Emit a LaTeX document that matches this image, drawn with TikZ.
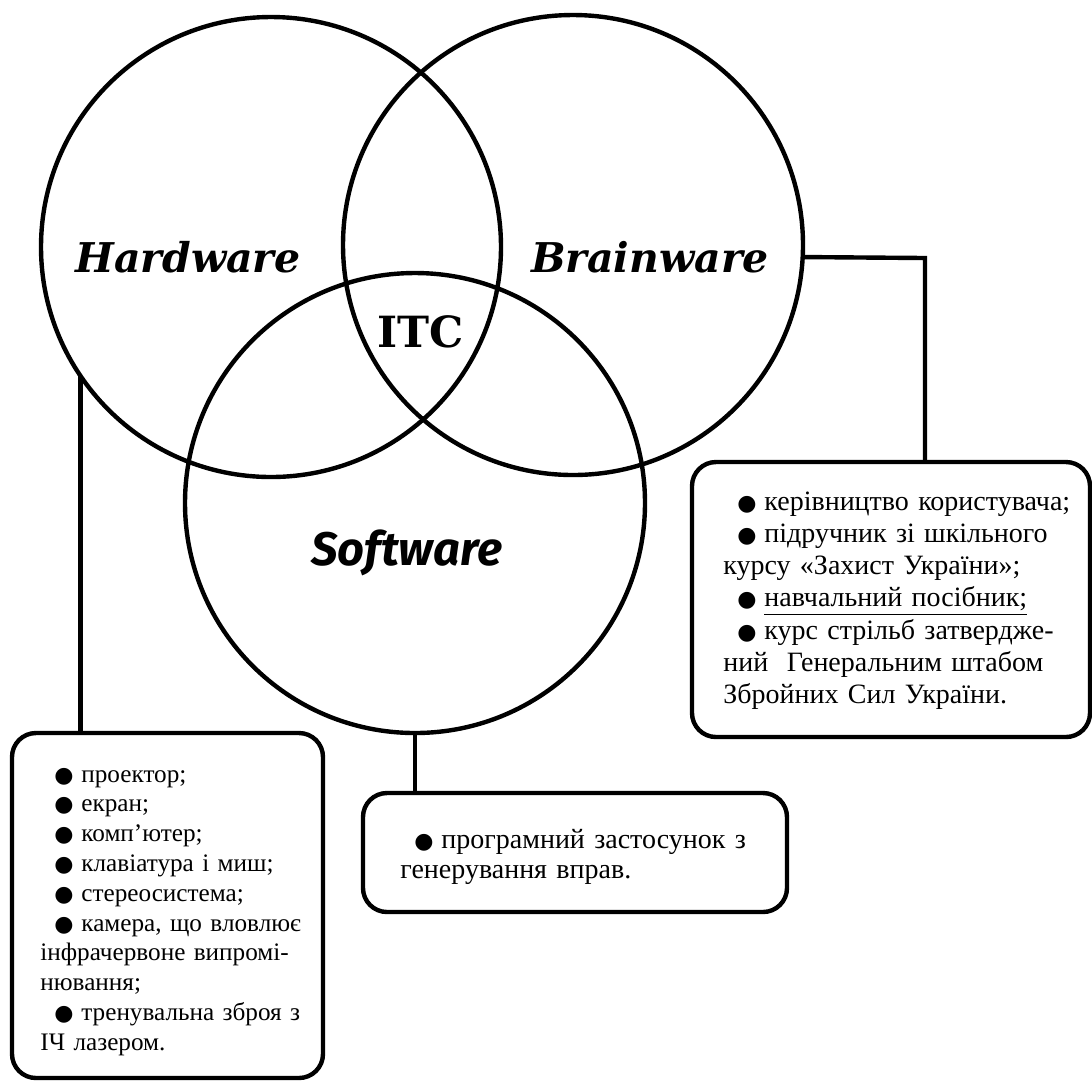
\documentclass[tikz,border=0pt]{standalone}
\usepackage{fontspec}
\setmainfont{Liberation Serif}
\newfontfamily\slabfont{DejaVu Serif}
\newfontfamily\softfont{Fira Sans}
\newfontfamily\dotfont{DejaVu Sans}
\newcommand\itm{\hspace*{7pt}\makebox[13.5pt][l]{\dotfont\fontsize{11}{11}\selectfont ●}}

\begin{document}
\begin{tikzpicture}
[
    x=0.5pt, y=-0.5pt,
    ring/.style={circle, draw, line width=2.2pt, minimum size=230pt, inner sep=0pt, outer sep=0pt},
    slab/.style={anchor=base, font=\slabfont\bfseries\itshape\fontsize{20.5}{24}\selectfont},
    infobox/.style={draw, line width=2.2pt, rounded corners=12pt, anchor=north west, inner sep=0pt, outer sep=0pt},
    infotext/.style={anchor=base west, align=left, inner sep=0pt},
    link/.style={line width=2.2pt},
]
\useasboundingbox (0,0) rectangle (1092,1084);

\node [ring] (hw) at (271,247) {};
\node [ring] (bw) at (573,245) {};
\node [ring] (sw) at (415,503) {};

\node [slab] (hwlabel) at (188,272) {Hardware};
\node [slab] (bwlabel) at (650,272) {Brainware};
\node [anchor=base, font=\slabfont\bfseries\fontsize{21.5}{24}\selectfont] (itc) at (421,347) {ITC};
\node [anchor=base, font=\softfont\bfseries\itshape\fontsize{23.5}{26}\selectfont] (swlabel) at (407,565) {Software};

\node [infobox, minimum width=155.5pt, minimum height=172.5pt] (hwbox) at (12,733) {};
\node [infotext, text width=140pt, font=\fontsize{12.6}{14.9}\selectfont] (hwtext) at (40,782)
{\itm проектор;\\
\itm екран;\\
\itm комп’ютер;\\
\itm клавіатура і миш;\\
\itm стереосистема;\\
\itm камера, що вловлює\\
інфрачервоне випромі-\\
нювання;\\
\itm тренувальна зброя з\\
ІЧ лазером.};

\node [infobox, minimum width=212pt, minimum height=59.5pt] (swbox) at (363,793) {};
\node [infotext, text width=190pt, font=\fontsize{14}{15}\selectfont] (swtext) at (400,848)
{\itm програмний застосунок з\\
генерування вправ.};

\node [infobox, minimum width=199pt, minimum height=137.5pt] (bwbox) at (692,462) {};
\node [infotext, text width=182pt, font=\fontsize{14}{16.15}\selectfont] (bwtext) at (723,510)
{\itm керівництво користувача;\\
\itm підручник зі шкільного\\
курсу «Захист України»;\\
\itm \underline{навчальний посібник;}\\
\itm курс стрільб затвердже-\\
ний\ \ Генеральним штабом\\
Збройних Сил України.};

\coordinate (bwturn) at (925,258);
\draw [link] (hw.214) -- (hw.214 |- hwbox.north);
\draw [link] (sw.south) -- (sw.south |- swbox.north);
\draw [link] (bw.-3.2) -- (bwturn) -- (bwturn |- bwbox.north);
\end{tikzpicture}
\end{document}
